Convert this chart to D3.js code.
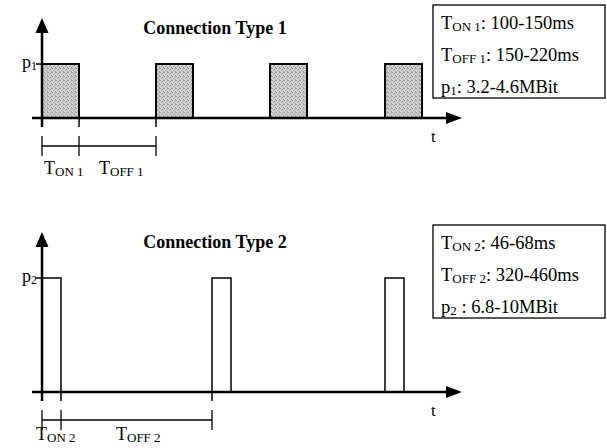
<!DOCTYPE html>
<html>
<head>
<meta charset="utf-8">
<script src="https://cdn.jsdelivr.net/npm/d3@7"></script>
<style>
  body { margin: 0; background: #fff; }
  svg { display: block; }
  text { font-family: "Liberation Serif", "Times New Roman", serif; fill: #000; }
</style>
</head>
<body>
<svg width="607" height="448"></svg>
<script>
// Pulse trains (schematic time units)
const pulseStarts1 = [0, 114, 228, 343];
const pulseWidth1 = 37;
const pulseStarts2 = [0, 170, 343];
const pulseWidth2 = 19;

// Dimension markers under each axis: [on start, on end, off end]
const marks1 = [0, 37, 114];
const marks2 = [0, 19, 170];

// Text
const titles = ["Connection Type 1", "Connection Type 2"];
const legend1 = [["T", "ON 1", ": 100-150ms"], ["T", "OFF 1", ": 150-220ms"], ["p", "1", ": 3.2-4.6MBit"]];
const legend2 = [["T", "ON 2", ": 46-68ms"], ["T", "OFF 2", ": 320-460ms"], ["p", "2", " : 6.8-10MBit"]];

const svg = d3.select("svg");

// stipple pattern for the shaded pulses
const defs = svg.append("defs");
const pat = defs.append("pattern")
    .attr("id", "stipple")
    .attr("width", 4).attr("height", 4)
    .attr("patternUnits", "userSpaceOnUse");
pat.append("rect").attr("width", 4).attr("height", 4).attr("fill", "#d2d2d2");
[[0, 0], [2, 1], [1, 2], [3, 3], [3, 0]].forEach(p => {
    pat.append("rect").attr("x", p[0]).attr("y", p[1])
        .attr("width", 1).attr("height", 1).attr("fill", "#9c9c9c");
});

const x = d3.scaleLinear().domain([0, 420]).range([42, 462]);

function arrowHead(g, pts) {
    g.append("path")
        .attr("d", d3.line()(pts) + "Z")
        .attr("fill", "#000");
}

function drawPanel(cfg) {
    const g = svg.append("g");
    const y = d3.scaleLinear().domain([0, 1]).range([cfg.base, cfg.peak]);

    // pulses
    g.selectAll("rect.pulse")
        .data(cfg.starts)
        .join("rect")
        .attr("class", "pulse")
        .attr("x", d => x(d))
        .attr("y", y(1))
        .attr("width", x(cfg.width) - x(0))
        .attr("height", y(0) - y(1))
        .attr("fill", cfg.fill)
        .attr("stroke", "#000")
        .attr("stroke-width", cfg.stroke);

    // x axis with arrow
    g.append("line")
        .attr("x1", x(0) - 10).attr("x2", x(410))
        .attr("y1", y(0)).attr("y2", y(0))
        .attr("stroke", "#000").attr("stroke-width", 2.5);
    arrowHead(g, [[x(420), y(0)], [x(404), y(0) - 6], [x(404), y(0) + 6]]);
    g.append("text")
        .attr("x", x(389)).attr("y", y(0) + 24)
        .attr("font-size", 17)
        .text("t");

    // y axis with arrow
    g.append("line")
        .attr("x1", x(0)).attr("x2", x(0))
        .attr("y1", y(0) + 9).attr("y2", cfg.tip + 10)
        .attr("stroke", "#000").attr("stroke-width", 2.5);
    arrowHead(g, [[x(0), cfg.tip], [x(0) - 6.5, cfg.tip + 15], [x(0) + 6.5, cfg.tip + 15]]);

    // p level tick + label
    g.append("line")
        .attr("x1", x(0) - 6).attr("x2", x(0))
        .attr("y1", y(1)).attr("y2", y(1))
        .attr("stroke", "#000").attr("stroke-width", 1.5);
    const pl = g.append("text")
        .attr("x", x(0) - 5).attr("y", y(1) + 4)
        .attr("text-anchor", "end")
        .attr("font-size", 18);
    pl.append("tspan").text("p");
    pl.append("tspan").attr("font-size", 12).attr("dy", 2).text(cfg.idx);

    // dimension line
    const dy = y(0) + 28;
    g.append("line")
        .attr("x1", x(cfg.marks[0])).attr("x2", x(cfg.marks[2]))
        .attr("y1", dy).attr("y2", dy)
        .attr("stroke", "#000").attr("stroke-width", 1.3);
    g.selectAll("line.dtick")
        .data(cfg.marks)
        .join("line")
        .attr("class", "dtick")
        .attr("x1", d => x(d)).attr("x2", d => x(d))
        .attr("y1", dy - 10).attr("y2", dy + 10)
        .attr("stroke", "#000").attr("stroke-width", 1.3);
    // short ticks below the axis at the marks
    g.selectAll("line.btick")
        .data(cfg.marks)
        .join("line")
        .attr("class", "btick")
        .attr("x1", d => x(d)).attr("x2", d => x(d))
        .attr("y1", y(0)).attr("y2", y(0) + 9)
        .attr("stroke", "#000").attr("stroke-width", 1.5);

    // dimension labels
    cfg.dimLabels.forEach((lab, i) => {
        const t = g.append("text")
            .attr("x", cfg.dimX[i]).attr("y", cfg.labelY)
            .attr("font-size", 18);
        t.append("tspan").text("T");
        t.append("tspan").attr("font-size", 13).attr("dy", 2).text(lab);
    });

    // title
    g.append("text")
        .attr("x", 215).attr("y", cfg.titleY)
        .attr("text-anchor", "middle")
        .attr("font-size", 18)
        .attr("font-weight", "bold")
        .text(cfg.title);

    // legend box
    g.append("rect")
        .attr("x", 433).attr("y", cfg.boxY)
        .attr("width", 172).attr("height", 93)
        .attr("fill", "#fff")
        .attr("stroke", "#000").attr("stroke-width", 1.3);
    cfg.legend.forEach((row, i) => {
        const t = g.append("text")
            .attr("x", 441).attr("y", cfg.boxY + 24 + i * 32)
            .attr("font-size", 18.5);
        t.append("tspan").text(row[0]);
        t.append("tspan").attr("font-size", 13).attr("dy", 2).text(row[1]);
        t.append("tspan").attr("dy", -2).text(row[2]);
    });
}

drawPanel({
    base: 118, peak: 64, tip: 18, starts: pulseStarts1, width: pulseWidth1,
    fill: "url(#stipple)", stroke: 2, marks: marks1, idx: "1",
    dimLabels: ["ON 1", "OFF 1"], dimX: [44, 99], labelY: 174,
    title: titles[0], titleY: 34, boxY: 5, legend: legend1
});

drawPanel({
    base: 392, peak: 278, tip: 232, starts: pulseStarts2, width: pulseWidth2,
    fill: "#fff", stroke: 1.5, marks: marks2, idx: "2",
    dimLabels: ["ON 2", "OFF 2"], dimX: [36, 116], labelY: 440,
    title: titles[1], titleY: 248, boxY: 225, legend: legend2
});
</script>
</body>
</html>
